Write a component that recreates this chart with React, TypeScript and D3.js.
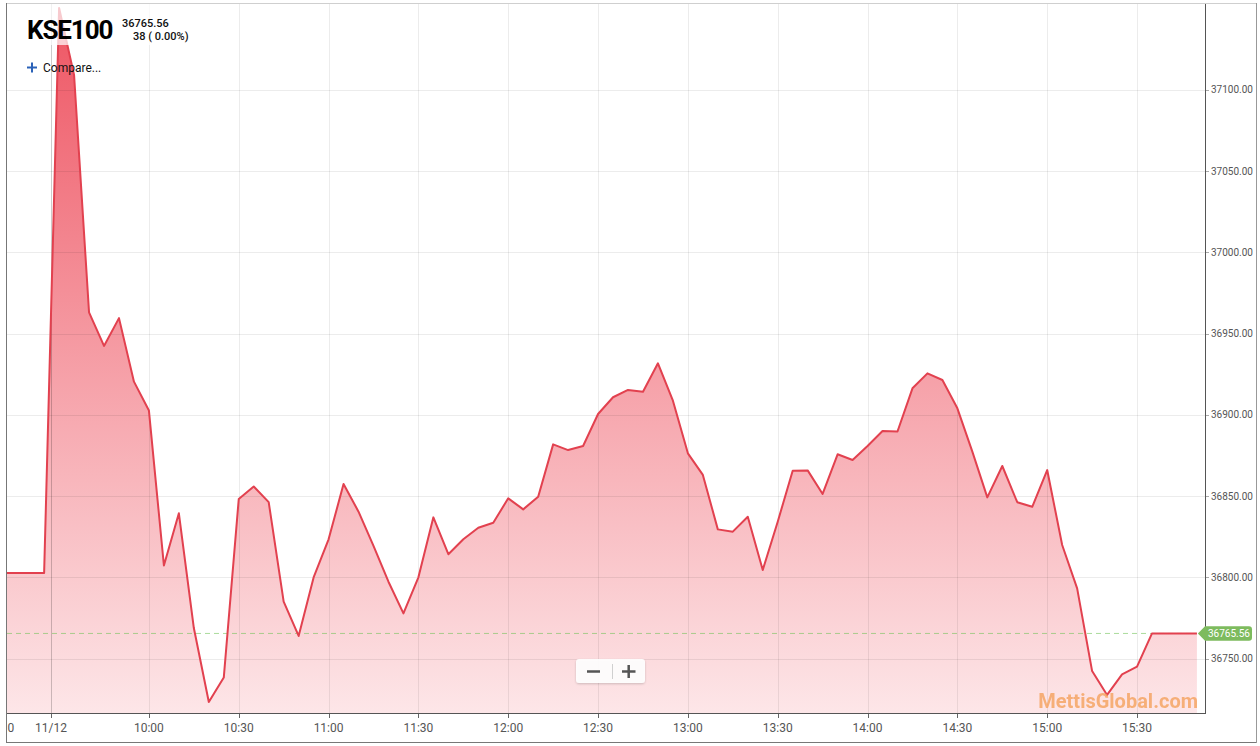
import React from 'react';
import * as d3 from 'd3';

// ---------- data ----------
const times = [
  "09:10","09:15","09:20","09:25","09:30","09:35","09:40","09:45","09:50","09:55",
  "10:00","10:05","10:10","10:15","10:20","10:25","10:30","10:35","10:40","10:45","10:50","10:55",
  "11:00","11:05","11:10","11:15","11:20","11:25","11:30","11:35","11:40","11:45","11:50","11:55",
  "12:00","12:05","12:10","12:15","12:20","12:25","12:30","12:35","12:40","12:45","12:50","12:55",
  "13:00","13:05","13:10","13:15","13:20","13:25","13:30","13:35","13:40","13:45","13:50","13:55",
  "14:00","14:05","14:10","14:15","14:20","14:25","14:30","14:35","14:40","14:45","14:50","14:55",
  "15:00","15:05","15:10","15:15","15:20","15:25","15:30","15:35","15:40","15:45","15:50"
];
const values = [
  36802.7, 36802.7, 36802.7, 36802.7, 37150.5, 37109.2, 36963.1, 36942.5, 36959.6, 36920.5,
  36902.7, 36807.4, 36839.5, 36768.9, 36723.4, 36738.4, 36848.3, 36856.0, 36846.4, 36785.1, 36764.0, 36800.0,
  36823.5, 36857.5, 36840.5, 36819.5, 36797.4, 36777.9, 36800.1, 36837.0, 36814.3, 36823.5, 36830.6, 36833.7,
  36848.7, 36841.9, 36849.7, 36881.9, 36878.4, 36880.9, 36900.6, 36910.9, 36915.4, 36914.3, 36931.8, 36908.8,
  36876.4, 36863.1, 36829.6, 36828.2, 36837.4, 36804.6, 36834.3, 36865.7, 36865.9, 36851.4, 36875.8, 36872.3,
  36880.9, 36890.1, 36889.8, 36916.4, 36925.6, 36921.5, 36904.1, 36877.4, 36849.3, 36868.6, 36846.3, 36843.5,
  36866.1, 36820.0, 36793.3, 36742.4, 36727.7, 36740.4, 36745.1, 36765.56, 36765.56, 36765.56, 36765.56
];
const xTickTimes = ["09:10","09:27.3","10:00","10:30","11:00","11:30","12:00","12:30","13:00","13:30","14:00","14:30","15:00","15:30"];
const xTickLabels = ["09:10","11/12","10:00","10:30","11:00","11:30","12:00","12:30","13:00","13:30","14:00","14:30","15:00","15:30"];
const yTicks = [36750, 36800, 36850, 36900, 36950, 37000, 37050, 37100];
const symbol = "KSE100";
const lastPrice = 36765.56;
const changeText = "38 ( 0.00%)";
const xDomain = ["09:12.6", "15:52.7"];
const yDomain = [36716.6, 37152.9];

const toMin = (t: string) => {
  const [h, m] = t.split(":");
  return +h * 60 + parseFloat(m);
};

export default function App() {
  const W = 1260, H = 746;
  const L = 7, R = 1205, T = 4, B = 713;
  const x = d3.scaleLinear().domain(xDomain.map(toMin)).range([L, R]);
  const y = d3.scaleLinear().domain(yDomain).range([B, T]);
  const pts = times.map((t, i) => ({ m: toMin(t), v: values[i] }));
  const area = d3.area<any>().x(d => x(d.m)).y0(B).y1(d => y(d.v));
  const line = d3.line<any>().x(d => x(d.m)).y(d => y(d.v));
  const fmt = d3.format(".2f");
  const lastX = x(pts[pts.length - 1].m);
  const lastY = y(lastPrice);
  const font = "Roboto, 'Noto Sans', sans-serif";

  return (
    <svg width={W} height={H} style={{ position: 'absolute', left: 0, top: 0, background: '#fff' }} fontFamily={font}>
      <defs>
        <linearGradient id="fillGrad" gradientUnits="userSpaceOnUse" x1={0} y1={T} x2={0} y2={B}>
          <stop offset="0" stopColor="#ee5462" />
          <stop offset="1" stopColor="#fde6e8" />
        </linearGradient>
        <clipPath id="plotClip"><rect x={L} y={T} width={R - L} height={B - T} /></clipPath>
        <clipPath id="xLabClip"><rect x={L} y={B} width={W - L} height={H - B} /></clipPath>
        <filter id="shadow" x="-20%" y="-30%" width="140%" height="160%">
          <feDropShadow dx="0" dy="1" stdDeviation="1.2" floodColor="#000" floodOpacity="0.2" />
        </filter>
      </defs>

      <g clipPath="url(#plotClip)">
        <path d={area(pts) || ''} fill="url(#fillGrad)" />
        {yTicks.map(t => (
          <line key={t} x1={L} x2={R} y1={Math.round(y(t)) + 0.5} y2={Math.round(y(t)) + 0.5} stroke="rgba(0,0,0,0.075)" />
        ))}
        {xTickTimes.map((t, i) => (
          <line key={t} x1={Math.round(x(toMin(t))) + 0.5} x2={Math.round(x(toMin(t))) + 0.5} y1={T} y2={B}
            stroke={xTickLabels[i] === "11/12" ? "rgba(0,0,0,0.2)" : "rgba(0,0,0,0.075)"} />
        ))}
        <line x1={L} x2={lastX} y1={lastY} y2={lastY} stroke="rgba(115,195,90,0.6)" strokeDasharray="5,4" />
        <path d={line(pts) || ''} fill="none" stroke="#e2414f" strokeWidth={2} strokeLinejoin="round" />
        <rect x={L} y={T} width={190} height={41} fill="#fff" opacity={0.72} />
      </g>

      {/* frame */}
      <line x1={6} x2={1257} y1={3.5} y2={3.5} stroke="#cfcfcf" />
      <line x1={6.5} x2={6.5} y1={3} y2={743} stroke="#777" />
      <line x1={6} x2={1257} y1={742.5} y2={742.5} stroke="#777" />
      <line x1={1256.5} x2={1256.5} y1={3} y2={743} stroke="#999" />

      {/* axes */}
      <line x1={R + 0.5} x2={R + 0.5} y1={T} y2={B + 1} stroke="#555" />
      <line x1={L} x2={R + 1} y1={B + 0.5} y2={B + 0.5} stroke="#555" />

      {yTicks.map(t => (
        <g key={t}>
          <line x1={R + 1} x2={R + 4} y1={Math.round(y(t)) + 0.5} y2={Math.round(y(t)) + 0.5} stroke="#aaa" />
          <text x={R + 6} y={y(t) + 3.5} fontSize={10} fill="#555">{fmt(t)}</text>
        </g>
      ))}

      <g clipPath="url(#xLabClip)">
        {xTickTimes.map((t, i) => (
          <g key={t}>
            <line x1={Math.round(x(toMin(t))) + 0.5} x2={Math.round(x(toMin(t))) + 0.5} y1={B + 1} y2={B + 5} stroke="#666" />
            <text x={x(toMin(t))} y={731.5} fontSize={12} fill="#555" textAnchor="middle">{xTickLabels[i]}</text>
          </g>
        ))}
      </g>

      {/* last price tag */}
      <path d={`M${lastX + 1},${lastY} L${R},${lastY - 7.2} L${R + 44},${lastY - 7.2} Q${R + 47},${lastY - 7.2} ${R + 47},${lastY - 4.2} L${R + 47},${lastY + 4.2} Q${R + 47},${lastY + 7.2} ${R + 44},${lastY + 7.2} L${R},${lastY + 7.2} Z`}
        fill="#7dbb5e" />
      <text x={R + 24} y={lastY + 3.5} fontSize={10} fill="#fff" textAnchor="middle">{fmt(lastPrice)}</text>

      {/* watermark */}
      <text x={1198} y={708} fontSize={20} fontWeight="bold" fill="#f5a25d" opacity={0.8} textAnchor="end">MettisGlobal.com</text>

      {/* zoom buttons */}
      <g filter="url(#shadow)">
        <rect x={576} y={659} width={69} height={24} rx={3} fill="#fff" opacity={0.92} />
      </g>
      <line x1={612.5} x2={612.5} y1={664} y2={679} stroke="#d0d0d0" />
      <line x1={587} x2={600} y1={671.5} y2={671.5} stroke="#555" strokeWidth={2.5} />
      <line x1={622} x2={635.5} y1={671.5} y2={671.5} stroke="#555" strokeWidth={2.5} />
      <line x1={628.7} x2={628.7} y1={665} y2={678} stroke="#555" strokeWidth={2.5} />

      {/* header */}
      <text x={27} y={39} fontSize={26} fontWeight="bold" fill="#000" letterSpacing={-1.1}>{symbol}</text>
      <text x={122} y={27} fontSize={11} fontWeight={500} fill="#111">{fmt(lastPrice)}</text>
      <text x={133} y={40} fontSize={11} fontWeight={500} fill="#111">{changeText}</text>
      <line x1={27} x2={37} y1={67.5} y2={67.5} stroke="#2b62b8" strokeWidth={2} />
      <line x1={32} x2={32} y1={62.5} y2={72.5} stroke="#2b62b8" strokeWidth={2} />
      <text x={43} y={72} fontSize={12} fill="#111">Compare...</text>
    </svg>
  );
}
